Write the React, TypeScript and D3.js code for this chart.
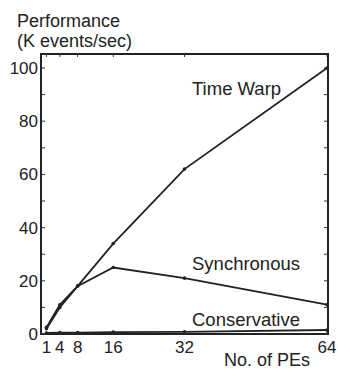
import * as d3 from "d3";

const pes = [1, 4, 8, 16, 32, 64];
const timeWarp = [2.5, 11, 18, 34, 62, 100];
const synchronous = [2, 10, 18, 25, 21, 11];
const conservative = [0.4, 0.5, 0.5, 0.7, 0.8, 1.5];
const yTicks = [0, 20, 40, 60, 80, 100];

const W = 338;
const H = 369;
const font = "'Liberation Sans', Arial, sans-serif";

export default function App() {
  const x = d3.scaleLinear().domain([0, 64]).range([42, 327]);
  const y = d3.scaleLinear().domain([0, 100]).range([334, 68]);
  const top = 54;
  const left = 41;
  const right = 328;
  const bottom = 334;

  const line = d3
    .line<number>()
    .x((_, i) => x(pes[i]))
    .y((d) => y(d));

  const series = [timeWarp, synchronous, conservative];
  const minor = d3.range(0, 101, 10);

  return (
    <svg
      width={W}
      height={H}
      style={{ position: "absolute", left: 0, top: 0, background: "#fff" }}
      fontFamily={font}
    >
      <rect
        x={left}
        y={top}
        width={right - left}
        height={bottom - top}
        fill="none"
        stroke="#222"
        strokeWidth={2}
      />
      {minor.map((v) => (
        <g key={v}>
          <line x1={left} x2={left + 4} y1={y(v)} y2={y(v)} stroke="#333" />
          <line x1={right - 4} x2={right} y1={y(v)} y2={y(v)} stroke="#333" />
        </g>
      ))}
      {pes.map((p) => (
        <g key={p}>
          <line x1={x(p)} x2={x(p)} y1={top} y2={top + 3} stroke="#333" />
          <line x1={x(p)} x2={x(p)} y1={bottom} y2={bottom - 3} stroke="#333" />
          <text
            x={x(p)}
            y={353}
            textAnchor="middle"
            fontSize={17}
            fill="#222"
          >
            {p}
          </text>
        </g>
      ))}
      {yTicks.map((v) => (
        <text
          key={v}
          x={38}
          y={y(v) + 6}
          textAnchor="end"
          fontSize={17}
          fill="#222"
        >
          {v}
        </text>
      ))}
      {series.map((s, k) => (
        <g key={k}>
          <path d={line(s) ?? ""} fill="none" stroke="#222" strokeWidth={1.8} />
          {s.map((v, i) => (
            <circle key={i} cx={x(pes[i])} cy={y(v)} r={1.8} fill="#222" />
          ))}
        </g>
      ))}
      <text x={17} y={27} fontSize={18} fill="#222">
        Performance
      </text>
      <text x={17} y={47} fontSize={18} fill="#222">
        (K events/sec)
      </text>
      <text x={192} y={95} fontSize={18.5} fill="#222">
        Time Warp
      </text>
      <text x={192} y={270} fontSize={18.5} fill="#222">
        Synchronous
      </text>
      <text x={192} y={326} fontSize={18.5} fill="#222">
        Conservative
      </text>
      <text x={224} y={366} fontSize={18} fill="#222">
        No. of PEs
      </text>
    </svg>
  );
}
